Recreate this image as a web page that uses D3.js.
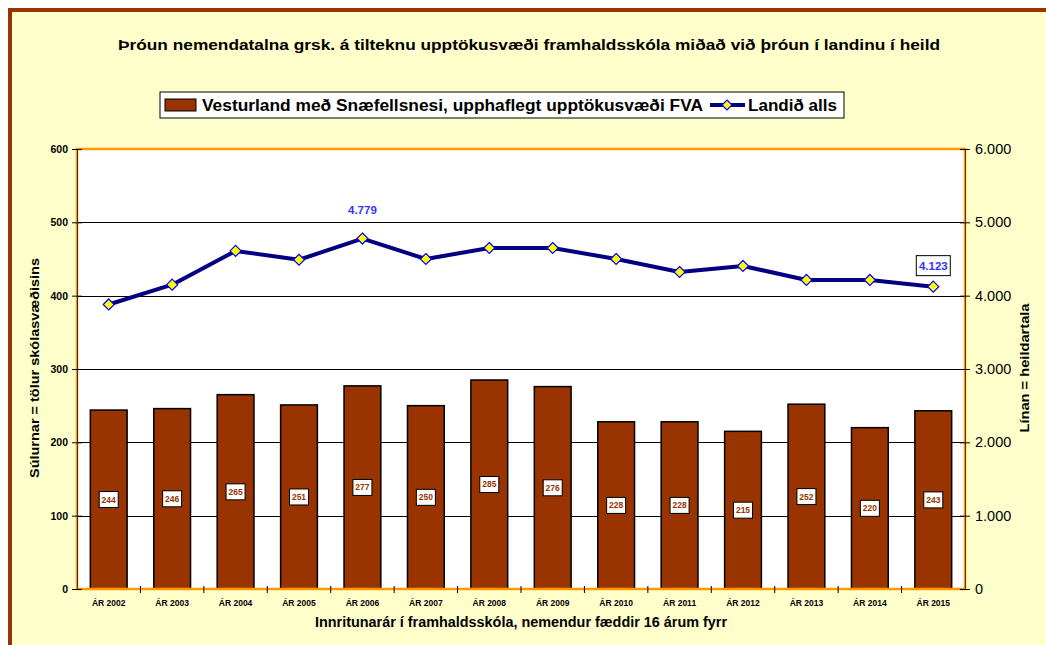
<!DOCTYPE html>
<html lang="is">
<head>
<meta charset="UTF-8">
<title>Þróun nemendatalna</title>
<script src="https://d3js.org/d3.v7.min.js"></script>
<style>
  body { margin: 0; background: #fff; }
  svg { display: block; font-family: Arial, "Liberation Sans", sans-serif; }
</style>
</head>
<body>
<svg id="chart" width="1046" height="645"></svg>
<script>
const years = ["ÁR 2002","ÁR 2003","ÁR 2004","ÁR 2005","ÁR 2006","ÁR 2007","ÁR 2008",
               "ÁR 2009","ÁR 2010","ÁR 2011","ÁR 2012","ÁR 2013","ÁR 2014","ÁR 2015"];
const vesturland = [244,246,265,251,277,250,285,276,228,228,215,252,220,243];
const landid = [3880,4150,4610,4490,4779,4500,4650,4650,4500,4323,4405,4214,4214,4123];
const leftTicks = [0,100,200,300,400,500,600];
const rightTicks = [0,1000,2000,3000,4000,5000,6000];

const svg = d3.select("#chart");
const W = 1046, H = 645;
const m = { left: 77, right: 965, top: 149, bottom: 589 };

// background and outer frame
svg.append("rect").attr("width", W).attr("height", H).attr("fill", "#fff");
svg.append("rect").attr("x", 10).attr("y", 10).attr("width", 1070).attr("height", 670)
  .attr("fill", "#ffffcc").attr("stroke", "#993300").attr("stroke-width", 4);

// title
svg.append("text").attr("x", 529).attr("y", 50).attr("text-anchor", "middle")
  .attr("font-size", "15px").attr("font-weight", "bold").attr("fill", "#000")
  .attr("textLength", 822).attr("lengthAdjust", "spacingAndGlyphs")
  .text("Þróun nemendatalna grsk. á tilteknu upptökusvæði framhaldsskóla miðað við þróun í landinu í heild");

const x = d3.scaleBand().domain(years).range([m.left, m.right]).paddingInner(0.42).paddingOuter(0.21);
const xb = d3.scaleBand().domain(years).range([m.left, m.right]);
const yL = d3.scaleLinear().domain([0, 600]).range([m.bottom, m.top]);
const yR = d3.scaleLinear().domain([0, 6000]).range([m.bottom, m.top]);
const fmt = d => d3.format(",")(d).replace(/,/g, ".");

// plot area
svg.append("rect").attr("x", m.left).attr("y", m.top)
  .attr("width", m.right - m.left).attr("height", m.bottom - m.top).attr("fill", "#fff");

// gridlines
svg.append("g").selectAll("line").data(leftTicks.filter(d => d > 0 && d < 600)).join("line")
  .attr("x1", m.left).attr("x2", m.right)
  .attr("y1", d => Math.round(yL(d)) + 0.5).attr("y2", d => Math.round(yL(d)) + 0.5)
  .attr("stroke", "#000").attr("stroke-width", 1);

// bars
svg.append("g").selectAll("rect").data(vesturland).join("rect")
  .attr("x", (d, i) => x(years[i])).attr("width", x.bandwidth())
  .attr("y", d => yL(d)).attr("height", d => m.bottom - yL(d))
  .attr("fill", "#993300").attr("stroke", "#000").attr("stroke-width", 1.5);

// plot border
svg.append("rect").attr("x", m.left).attr("y", m.top)
  .attr("width", m.right - m.left).attr("height", m.bottom - m.top)
  .attr("fill", "none").attr("stroke", "#ff9900").attr("stroke-width", 2.5);

// axes
const leftAxis = d3.axisLeft(yL).tickValues(leftTicks).tickSize(5).tickFormat(d3.format("d"));
const gL = svg.append("g").attr("transform", `translate(${m.left},0)`).call(leftAxis);
gL.select(".domain").attr("stroke", "#333").attr("stroke-width", 1);
gL.selectAll(".tick line").attr("x2", 5).attr("x1", -5).attr("stroke", "#000");
gL.selectAll(".tick text").attr("x", -9).attr("font-size", "10.5px").attr("font-weight", "bold")
  .attr("font-family", "Arial, 'Liberation Sans', sans-serif").attr("fill", "#000");

const rightAxis = d3.axisRight(yR).tickValues(rightTicks).tickSize(5).tickFormat(fmt);
const gR = svg.append("g").attr("transform", `translate(${m.right},0)`).call(rightAxis);
gR.select(".domain").attr("stroke", "#663300").attr("stroke-width", 1);
gR.selectAll(".tick line").attr("x1", -5).attr("x2", 5).attr("stroke", "#000");
gR.selectAll(".tick text").attr("x", 10).attr("font-size", "14.5px")
  .attr("font-family", "Arial, 'Liberation Sans', sans-serif").attr("fill", "#000");

const gX = svg.append("g").attr("transform", `translate(0,${m.bottom})`)
  .call(d3.axisBottom(x).tickSize(0));
gX.select(".domain").remove();
gX.selectAll(".tick text").attr("y", 11).attr("font-size", "8.5px").attr("font-weight", "bold")
  .attr("font-family", "Arial, 'Liberation Sans', sans-serif").attr("fill", "#000");
svg.append("g").selectAll("line").data(years.slice(1)).join("line")
  .attr("x1", d => xb(d)).attr("x2", d => xb(d))
  .attr("y1", m.bottom - 3).attr("y2", m.bottom + 4).attr("stroke", "#000");

// bar value labels
const bl = svg.append("g").selectAll("g").data(vesturland).join("g")
  .attr("transform", (d, i) => `translate(${x(years[i]) + x.bandwidth() / 2},${yL(d / 2)})`);
bl.append("rect").attr("x", -9.5).attr("y", -8).attr("width", 19).attr("height", 16)
  .attr("fill", "#fff").attr("stroke", "#000").attr("stroke-width", 1);
bl.append("text").attr("text-anchor", "middle").attr("dy", "0.35em")
  .attr("font-size", "8.5px").attr("font-weight", "bold").attr("fill", "#993300")
  .text(d => d);

// line series
const cx = i => xb(years[i]) + xb.bandwidth() / 2;
svg.append("path").datum(landid)
  .attr("d", d3.line().x((d, i) => cx(i)).y(d => yR(d)))
  .attr("fill", "none").attr("stroke", "#000080").attr("stroke-width", 4)
  .attr("stroke-linejoin", "round");
svg.append("g").selectAll("path").data(landid).join("path")
  .attr("transform", (d, i) => `translate(${cx(i)},${yR(d)})`)
  .attr("d", "M0,-5.5L5.5,0L0,5.5L-5.5,0Z")
  .attr("fill", "#ffff00").attr("stroke", "#0000ff").attr("stroke-width", 1.2);

// line value labels
svg.append("text").attr("x", cx(4)).attr("y", yR(landid[4]) - 25).attr("text-anchor", "middle")
  .attr("font-size", "11.5px").attr("font-weight", "bold").attr("fill", "#3333ff").text(fmt(landid[4]));
const ll = svg.append("g").attr("transform", `translate(${cx(13)},${yR(landid[13]) - 21})`);
ll.append("rect").attr("x", -17).attr("y", -10).attr("width", 34).attr("height", 20)
  .attr("fill", "#fff").attr("stroke", "#000").attr("stroke-width", 1);
ll.append("text").attr("text-anchor", "middle").attr("dy", "0.35em")
  .attr("font-size", "11.5px").attr("font-weight", "bold").attr("fill", "#3333ff").text(fmt(landid[13]));

// axis titles
svg.append("text").attr("transform", "translate(39,368) rotate(-90)").attr("text-anchor", "middle")
  .attr("font-size", "13px").attr("font-weight", "bold")
  .attr("textLength", 220).attr("lengthAdjust", "spacingAndGlyphs")
  .text("Súlurnar = tölur skólasvæðisins");
svg.append("text").attr("transform", "translate(1029,368) rotate(-90)").attr("text-anchor", "middle")
  .attr("font-size", "13px").attr("font-weight", "bold")
  .attr("textLength", 129).attr("lengthAdjust", "spacingAndGlyphs")
  .text("Línan = heildartala");
svg.append("text").attr("x", 521).attr("y", 627).attr("text-anchor", "middle")
  .attr("font-size", "14px").attr("font-weight", "bold")
  .attr("textLength", 412).attr("lengthAdjust", "spacingAndGlyphs")
  .text("Innritunarár í framhaldsskóla, nemendur fæddir 16 árum fyrr");

// legend
const lg = svg.append("g");
lg.append("rect").attr("x", 160).attr("y", 92).attr("width", 684).attr("height", 26)
  .attr("fill", "#fff").attr("stroke", "#000").attr("stroke-width", 1);
lg.append("rect").attr("x", 165).attr("y", 99).attr("width", 31).attr("height", 12)
  .attr("fill", "#993300").attr("stroke", "#000").attr("stroke-width", 1);
lg.append("text").attr("x", 202).attr("y", 111).attr("font-size", "16px").attr("font-weight", "bold")
  .attr("textLength", 501).attr("lengthAdjust", "spacingAndGlyphs")
  .text("Vesturland með Snæfellsnesi, upphaflegt upptökusvæði FVA");
lg.append("line").attr("x1", 710).attr("x2", 745).attr("y1", 105).attr("y2", 105)
  .attr("stroke", "#000080").attr("stroke-width", 4);
lg.append("path").attr("transform", "translate(727,105)").attr("d", "M0,-5L5,0L0,5L-5,0Z")
  .attr("fill", "#ffff00").attr("stroke", "#0000ff").attr("stroke-width", 1.2);
lg.append("text").attr("x", 748).attr("y", 111).attr("font-size", "16px").attr("font-weight", "bold")
  .attr("textLength", 89).attr("lengthAdjust", "spacingAndGlyphs")
  .text("Landið alls");
</script>
</body>
</html>
